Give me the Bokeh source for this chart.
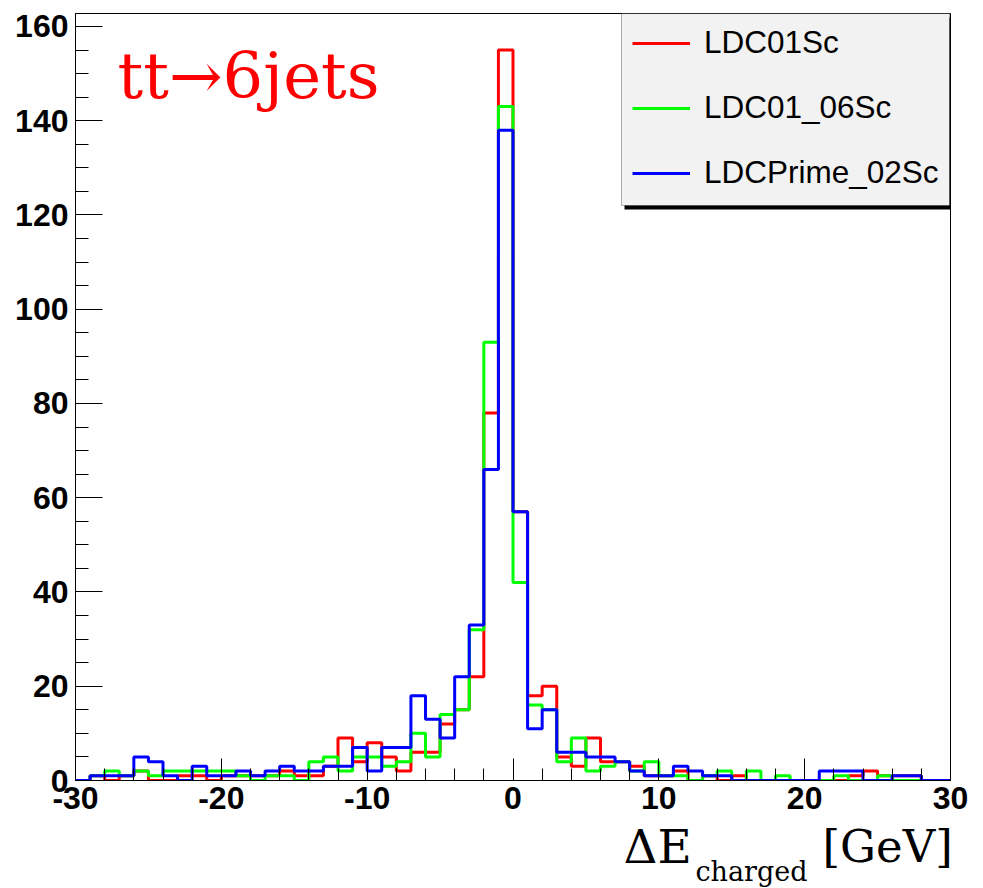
import numpy as np
from bokeh.plotting import figure
from bokeh.layouts import column
from bokeh.models import (Range1d, FixedTicker, Legend, LegendItem,
                          BoxAnnotation, Label)
from bokeh.embed import file_html
from bokeh.resources import INLINE

# ---- data -------------------------------------------------------------
x_low, x_high, n_bins = -30, 30, 60
edges = np.linspace(x_low, x_high, n_bins + 1)

ldc01_sc = [0, 1, 0, 1, 2, 0, 0, 1, 1, 0,
            1, 1, 1, 1, 2, 1, 1, 3, 9, 4,
            8, 5, 2, 6, 6, 12, 15, 22, 78, 155,
            57, 18, 20, 5, 3, 9, 4, 4, 3, 1,
            1, 2, 0, 1, 0, 1, 0, 0, 0, 0,
            0, 0, 0, 1, 2, 1, 1, 1, 0, 0]

ldc01_06_sc = [0, 1, 2, 1, 2, 1, 2, 2, 2, 2,
               2, 1, 0, 1, 1, 0, 4, 5, 2, 5,
               5, 3, 4, 10, 5, 14, 15, 32, 93, 143,
               42, 16, 15, 4, 9, 2, 3, 4, 2, 4,
               1, 1, 0, 1, 2, 0, 2, 0, 1, 0,
               0, 0, 1, 0, 0, 1, 0, 0, 0, 0]

ldcprime_02_sc = [0, 1, 1, 1, 5, 4, 1, 0, 3, 1,
                  1, 2, 1, 2, 3, 2, 2, 3, 3, 7,
                  2, 7, 7, 18, 13, 9, 22, 33, 66, 138,
                  57, 11, 15, 6, 6, 5, 5, 4, 2, 1,
                  1, 3, 2, 1, 1, 0, 0, 0, 0, 0,
                  0, 2, 2, 2, 0, 0, 1, 1, 0, 0]

series_names = ["LDC01Sc", "LDC01_06Sc", "LDCPrime_02Sc"]
series_colors = ["#ff0000", "#00ff00", "#0000ff"]

x_major = [-30, -20, -10, 0, 10, 20, 30]
x_major_labels = ["-30", "-20", "-10", "0", "10", "20", "30"]
y_major = [0, 20, 40, 60, 80, 100, 120, 140, 160]
y_major_labels = ["0", "20", "40", "60", "80", "100", "120", "140", "160"]

title_text = "tt→6jets"
xtitle_main = "ΔE"
xtitle_sub = "charged"
xtitle_unit = "[GeV]"

# ---- main figure ------------------------------------------------------
y_max = 1.05 * max(ldc01_sc)

p = figure(width=983, height=828, output_backend="svg", toolbar_location=None,
           x_range=Range1d(x_low, x_high), y_range=Range1d(0, y_max),
           min_border_left=75, min_border_right=33,
           min_border_top=13, min_border_bottom=48)
p.background_fill_color = "white"
p.border_fill_color = "white"
p.outline_line_color = "black"
p.outline_line_width = 1
p.grid.visible = False

renderers = []
for vals, col in zip([ldc01_sc, ldc01_06_sc, ldcprime_02_sc], series_colors):
    yv = list(vals) + [vals[-1]]
    r = p.step(x=edges, y=yv, mode="after", line_color=col, line_width=3)
    renderers.append(r)

p.xaxis.ticker = FixedTicker(ticks=x_major,
                             minor_ticks=list(np.arange(x_low, x_high + 1, 2)))
p.yaxis.ticker = FixedTicker(ticks=y_major,
                             minor_ticks=list(np.arange(0, 161, 5)))
p.xaxis.major_label_overrides = dict(zip(x_major, x_major_labels))
p.yaxis.major_label_overrides = dict(zip(y_major, y_major_labels))

for ax in (p.xaxis, p.yaxis):
    ax.axis_line_color = "black"
    ax.major_tick_line_color = "black"
    ax.minor_tick_line_color = "black"
    ax.major_tick_out = 0
    ax.minor_tick_out = 0
    ax.major_label_text_font = "Liberation Sans"
    ax.major_label_text_font_style = "bold"
    ax.major_label_text_font_size = "32px"
    ax.major_label_text_color = "black"

p.xaxis.major_tick_in = 22
p.xaxis.minor_tick_in = 12
p.yaxis.major_tick_in = 27
p.yaxis.minor_tick_in = 13
p.xaxis.major_label_standoff = 6
p.yaxis.major_label_standoff = 7

# legend box with shadow
shadow = BoxAnnotation(left=549, right=877, bottom=571, top=763,
                       left_units="screen", right_units="screen",
                       bottom_units="screen", top_units="screen",
                       fill_color="black", fill_alpha=1.0, line_color=None)
box = BoxAnnotation(left=546, right=874, bottom=575, top=767,
                    left_units="screen", right_units="screen",
                    bottom_units="screen", top_units="screen",
                    fill_color="#f2f2f2", fill_alpha=1.0,
                    line_color="black", line_width=1)
p.add_layout(shadow)
p.add_layout(box)

legend = Legend(items=[LegendItem(label=n, renderers=[r])
                       for n, r in zip(series_names, renderers)],
                location=(557, 589), margin=0, padding=0, spacing=28,
                glyph_height=36, glyph_width=58, label_height=36,
                label_standoff=14, label_text_font="Liberation Sans",
                label_text_font_size="31.5px", label_text_color="black",
                border_line_color=None, background_fill_alpha=0)
p.add_layout(legend)

p.add_layout(Label(x=42, y=705, x_units="screen", y_units="screen",
                   text=title_text, text_color="#ff0000",
                   text_font="DejaVu Serif", text_font_size="64px",
                   text_baseline="alphabetic"))

# ---- strip below for the x-axis title ---------------------------------
q = figure(width=983, height=70, output_backend="svg", toolbar_location=None,
           x_range=Range1d(0, 1), y_range=Range1d(0, 1),
           min_border=0, x_axis_type=None, y_axis_type=None)
q.margin = (-10, 0, 0, 0)
q.outline_line_color = None
q.grid.visible = False
q.background_fill_alpha = 0
q.border_fill_alpha = 0

q.add_layout(Label(x=548, y=42, x_units="screen", y_units="screen",
                   text=xtitle_main, text_color="black", text_font="DejaVu Serif",
                   text_font_size="47px", text_baseline="alphabetic"))
q.add_layout(Label(x=620, y=17, x_units="screen", y_units="screen",
                   text=xtitle_sub, text_color="black", text_font="DejaVu Serif",
                   text_font_size="27px", text_baseline="alphabetic"))
q.add_layout(Label(x=747, y=42, x_units="screen", y_units="screen",
                   text=xtitle_unit, text_color="black", text_font="DejaVu Serif",
                   text_font_size="45px", text_baseline="alphabetic"))

layout = column(p, q, spacing=0)
open("out.html", "w").write(file_html(layout, INLINE))
